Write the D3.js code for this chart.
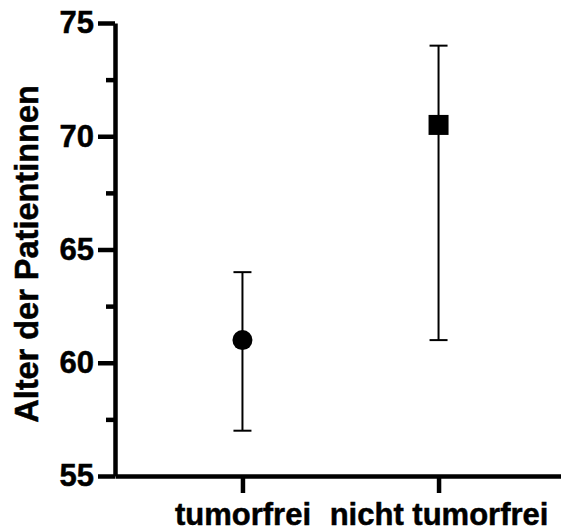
<!DOCTYPE html>
<html>
<head>
<meta charset="utf-8">
<script src="https://cdn.jsdelivr.net/npm/d3@7"></script>
<style>
    body { margin: 0; background: #fff; }
    text { font-family: "Liberation Sans", Arial, sans-serif; font-weight: bold; fill: #000; stroke: #000; stroke-width: 0.5px; }
</style>
</head>
<body>
<svg id="age_plot" width="561" height="532"></svg>
<script>
// values
const groups      = ["tumorfrei", "nicht tumorfrei"];
const centers     = [61, 70.5];
const lowers      = [57, 61];
const uppers      = [64, 74];
const shapes      = ["circle", "square"];
const major_ticks = [55, 60, 65, 70, 75];
const minor_ticks = [57.5, 62.5, 67.5, 72.5];
const y_title     = "Alter der Patientinnen";

const svg = d3.select("#age_plot");

const y = d3.scaleLinear()
    .domain([55, 75])
    .range([476, 23]);

const x = d3.scalePoint()
    .domain(groups)
    .range([115, 566])
    .padding(0.65);

// y axis: major ticks with labels, minor ticks without
const axisY = svg.append("g")
    .attr("transform", "translate(115,0)")
    .call(d3.axisLeft(y).tickValues(major_ticks).tickSize(17).tickSizeOuter(0).tickPadding(4));

const axisYMinor = svg.append("g")
    .attr("transform", "translate(115,0)")
    .call(d3.axisLeft(y).tickValues(minor_ticks).tickSize(9).tickSizeOuter(0).tickFormat(""));
axisYMinor.select(".domain").remove();

// x axis
const axisX = svg.append("g")
    .attr("transform", "translate(0,476)")
    .call(d3.axisBottom(x).tickSize(17).tickSizeOuter(0).tickPadding(10));

svg.selectAll(".domain, .tick line")
    .attr("stroke", "#000")
    .attr("stroke-width", 4.5);

svg.selectAll(".tick text")
    .attr("font-size", 31)
    .attr("font-family", null);

// axis title
svg.append("text")
    .attr("transform", "translate(38,254) rotate(-90)")
    .attr("text-anchor", "middle")
    .attr("font-size", 32.5)
    .text(y_title);

// error bars
const data = groups.map((g, i) => ({ g: g, c: centers[i], lo: lowers[i], hi: uppers[i], s: shapes[i] }));

const bars = svg.append("g").attr("stroke", "#000").attr("stroke-width", 2);

bars.selectAll(".whisker").data(data).enter().append("line")
    .attr("class", "whisker")
    .attr("x1", d => x(d.g)).attr("x2", d => x(d.g))
    .attr("y1", d => y(d.lo)).attr("y2", d => y(d.hi));

bars.selectAll(".cap_hi").data(data).enter().append("line")
    .attr("class", "cap_hi")
    .attr("x1", d => x(d.g) - 9).attr("x2", d => x(d.g) + 9)
    .attr("y1", d => y(d.hi)).attr("y2", d => y(d.hi));

bars.selectAll(".cap_lo").data(data).enter().append("line")
    .attr("class", "cap_lo")
    .attr("x1", d => x(d.g) - 9).attr("x2", d => x(d.g) + 9)
    .attr("y1", d => y(d.lo)).attr("y2", d => y(d.lo));

// markers
svg.selectAll(".mark_circle").data(data.filter(d => d.s === "circle")).enter().append("circle")
    .attr("class", "mark_circle")
    .attr("cx", d => x(d.g))
    .attr("cy", d => y(d.c))
    .attr("r", 10)
    .attr("fill", "#000");

svg.selectAll(".mark_square").data(data.filter(d => d.s === "square")).enter().append("rect")
    .attr("class", "mark_square")
    .attr("x", d => x(d.g) - 10)
    .attr("y", d => y(d.c) - 10)
    .attr("width", 20)
    .attr("height", 20)
    .attr("fill", "#000");
</script>
</body>
</html>
